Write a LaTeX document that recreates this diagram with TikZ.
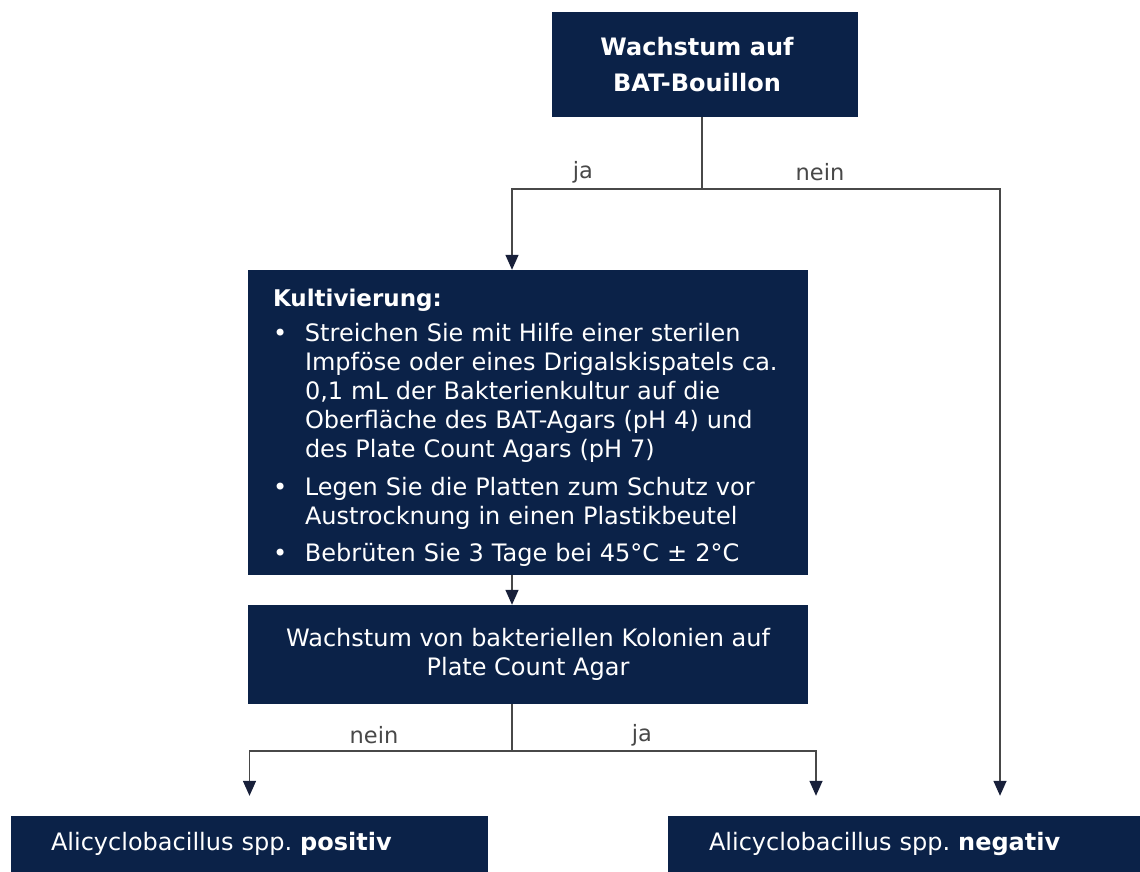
\documentclass[tikz,border=0pt]{standalone}
\usepackage{fontspec}
\setmainfont{DejaVu Sans}
\usetikzlibrary{arrows.meta,positioning,calc}
\definecolor{navy}{HTML}{0B2248}
\definecolor{wire}{HTML}{484848}
\definecolor{tipc}{HTML}{18203A}
\tikzset{
  box/.style={fill=navy, draw=none, text=white, align=center, inner sep=0pt,
              font=\fontsize{24}{29}\selectfont\frenchspacing},
  ar/.style={-{Triangle[length=15pt,width=13pt,color=tipc]}, line width=1.4pt, draw=wire},
  ln/.style={line width=1.4pt, draw=wire},
  lbl/.style={font=\fontsize{22.5}{26}\selectfont, text=wire},
}

\begin{document}
\begin{tikzpicture}[x=1pt,y=-1pt]
\useasboundingbox[fill=white] (0,0) rectangle (1140,872);

% boxes
\node[box, minimum width=306pt, minimum height=105pt, font=\fontsize{24}{36}\selectfont\bfseries] (bat) at (705,64.5)
  {Wachstum auf\hspace*{16pt}\\BAT-Bouillon\hspace*{16pt}};
\node[box, text width=510pt, inner xsep=25pt, align=left, minimum height=305pt] (kult) at (528,422.5)
  {\rule{0pt}{32pt}{\fontsize{23}{29}\selectfont\bfseries Kultivierung:}\\[9pt]
   \begin{tabular}{@{}p{32pt}@{}l@{}}
   • & Streichen Sie mit Hilfe einer sterilen\\
     & Impföse oder eines Drigalskispatels ca.\\
     & 0,1 mL der Bakterienkultur auf die\\
     & Oberfläche des BAT-Agars (pH 4) und\\
     & des Plate Count Agars (pH 7)\\[9pt]
   • & Legen Sie die Platten zum Schutz vor\\
     & Austrocknung in einen Plastikbeutel\\[8pt]
   • & Bebrüten Sie 3 Tage bei 45°C ± 2°C
   \end{tabular}};
\node[box, minimum width=560pt, minimum height=99pt] (grow) at (528,654.5)
  {Wachstum von bakteriellen Kolonien auf\\Plate Count Agar};
\node[box, text width=397pt, inner xsep=40pt, align=left, minimum height=56pt] (pos) at (249.5,844)
  {Alicyclobacillus spp. \textbf{positiv}};
\node[box, text width=390pt, inner xsep=41pt, align=left, minimum height=56pt] (neg) at (904,844)
  {Alicyclobacillus spp. \textbf{negativ}};

% branch points
\coordinate (s1) at (702,189);
\coordinate (jaL) at (512,189);
\coordinate (neinR) at (1000,189);
\coordinate (s2) at (512,751);
\coordinate (jaR) at (816,751);

\draw[ln] (bat.south -| s1) -- (s1);
\draw[ar] (s1) -- (jaL) -- (jaL |- kult.north);
\draw[ar, shorten >=20pt] (s1) -- (neinR) -- (neinR |- neg.north);
\draw[ar] (kult.south -| jaL) -- (grow.north -| jaL);
\draw[ln] (grow.south -| s2) -- (s2);
\draw[ar, shorten >=20pt] (s2) -| (pos.north);
\draw[ar, shorten >=20pt] (s2) -- (jaR) -- (jaR |- neg.north);

% labels
\node[lbl] (ja1) at (583,172) {ja};
\node[lbl] (nein1) at (820,172) {nein};
\node[lbl] (nein2) at (374,735) {nein};
\node[lbl] (ja2) at (642,735) {ja};
\end{tikzpicture}
\end{document}
